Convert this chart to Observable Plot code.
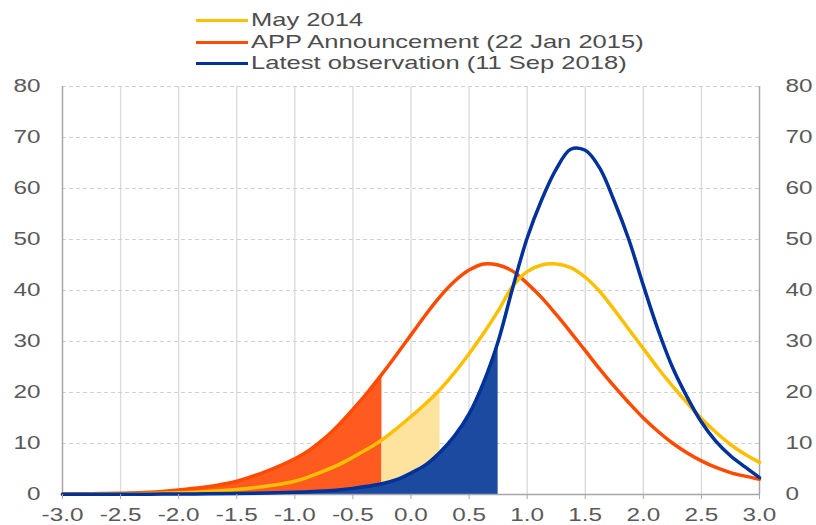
<!DOCTYPE html>
<html><head><meta charset="utf-8">
<script src="https://cdn.jsdelivr.net/npm/d3@7"></script>
<script src="https://cdn.jsdelivr.net/npm/@observablehq/plot@0.6"></script>
<style>
body{margin:0;background:#fff;font-family:"Liberation Sans",Arial,sans-serif;}
#wrap{width:816px;}
#legend{position:relative;height:72px;}
.item{position:absolute;left:196px;height:20px;width:600px;}
.swatch{position:absolute;left:0;top:8.5px;width:52px;height:3.5px;}
.lab{position:absolute;left:55px;top:-1px;font-size:18.5px;line-height:21px;color:#4d4d4d;white-space:nowrap;transform:scaleX(1.38);transform-origin:left center;}
</style></head><body>
<div id="wrap"><div id="legend"></div><div id="chart"></div></div>
<script>
// x grid (percent), series values (density), cut-offs, ticks
const xs = [-3,-2.75,-2.5,-2.25,-2,-1.75,-1.5,-1.25,-1,-0.875,-0.75,-0.625,-0.5,-0.375,-0.25,-0.125,0,0.125,0.25,0.375,0.5,0.625,0.75,0.875,1,1.125,1.25,1.375,1.5,1.625,1.75,1.875,2,2.125,2.25,2.375,2.5,2.625,2.75,2.875,3];
const may2014 = [0.05,0.08,0.12,0.2,0.35,0.6,1.0,1.6,2.6,3.5,4.6,5.8,7.3,8.9,10.7,12.9,15.3,17.8,20.6,23.9,27.6,31.6,36.0,40.8,43.7,45.0,45.2,44.5,42.6,39.8,36.2,32.4,28.6,24.8,21.3,18.0,14.9,12.2,9.8,7.9,6.3];
const appAnnouncement = [0.1,0.15,0.25,0.45,0.9,1.5,2.6,4.5,7.0,8.7,10.9,13.6,16.7,20.0,23.6,27.4,31.3,35.2,38.8,41.8,44.0,45.2,45.0,43.8,41.4,38.6,35.3,31.8,28.2,24.6,21.2,18.0,15.0,12.4,10.1,8.2,6.6,5.3,4.3,3.6,3.0];
const latestObservation = [0.03,0.04,0.05,0.07,0.1,0.14,0.2,0.3,0.45,0.55,0.7,0.9,1.2,1.6,2.1,2.9,4.2,5.8,8.3,11.5,15.8,22.0,30.0,40.5,50.3,57.8,63.8,67.7,67.5,64.0,57.5,50.0,41.0,32.4,25.0,19.2,14.2,10.4,7.6,5.4,3.3];
const seriesNames = ["May 2014","APP Announcement (22 Jan 2015)","Latest observation (11 Sep 2018)"];
const seriesColors = ["#fdbf00","#ff4b00","#003299"];
const fillColors = ["#fde39e","#ff5a1f","#1c4aa0"];
const appCut = -0.25, mayCut = 0.25, latestCut = 0.75;
const xTicks = [-3,-2.5,-2,-1.5,-1,-0.5,0,0.5,1,1.5,2,2.5,3];
const xTickLabels = ["-3.0","-2.5","-2.0","-1.5","-1.0","-0.5","0.0","0.5","1.0","1.5","2.0","2.5","3.0"];
const yTicks = [0,10,20,30,40,50,60,70,80];

// legend
const legend = document.getElementById("legend");
const rowTops = [10,32,53];
seriesNames.forEach((name,i)=>{
  const it = document.createElement("div"); it.className="item"; it.style.top = rowTops[i]+"px";
  const sw = document.createElement("div"); sw.className="swatch"; sw.style.background = seriesColors[i];
  const lb = document.createElement("div"); lb.className="lab"; lb.textContent = name;
  it.appendChild(sw); it.appendChild(lb); legend.appendChild(it);
});

const rows = xs.map((x,i)=>({x, may: may2014[i], app: appAnnouncement[i], latest: latestObservation[i]}));
const curve = "catmull-rom";
const gray = "#a6a6a6";
const chart = Plot.plot({
  width:816, height:453, marginLeft:62, marginRight:57, marginTop:14, marginBottom:31,
  style:{fontFamily:'"Liberation Sans", Arial, sans-serif', fontSize:"18px", color:"#595959", background:"#fff", overflow:"visible"},
  x:{domain:[-3,3], label:null},
  y:{domain:[0,80], label:null},
  marks:[
    Plot.ruleX(xTicks.slice(1,-1), {stroke:"#dadada", strokeWidth:1.3}),
    Plot.ruleY(yTicks.slice(1), {stroke:"#d0d0d0", strokeDasharray:"4,3"}),
    Plot.areaY(rows.filter(d=>d.x<=appCut), {x:"x", y:"app", fill:fillColors[1], curve}),
    Plot.areaY(rows.filter(d=>d.x>=appCut && d.x<=mayCut), {x:"x", y:"may", fill:fillColors[0], curve}),
    Plot.areaY(rows.filter(d=>d.x<=latestCut), {x:"x", y:"latest", fill:fillColors[2], curve}),
    Plot.ruleX([xTicks[0], xTicks[xTicks.length-1]], {stroke:gray, strokeWidth:1.5}),
    Plot.ruleY([0], {stroke:gray, strokeWidth:1.5}),
    Plot.line(rows, {x:"x", y:"app", stroke:seriesColors[1], strokeWidth:3.5, curve}),
    Plot.line(rows, {x:"x", y:"may", stroke:seriesColors[0], strokeWidth:3.5, curve}),
    Plot.line(rows, {x:"x", y:"latest", stroke:seriesColors[2], strokeWidth:3.5, curve}),
    Plot.axisX({ticks:xTicks, tickFormat:d=>xTickLabels[xTicks.indexOf(d)], tickSize:5, tickPadding:9, stroke:gray, label:null}),
    Plot.axisY({anchor:"left", ticks:yTicks, tickSize:0, tickPadding:22, label:null}),
    Plot.axisY({anchor:"right", ticks:yTicks, tickSize:0, tickPadding:26, label:null})
  ]
});
chart.querySelectorAll("text").forEach(t=>{
  const x = +(t.getAttribute("x")||0);
  const tr = t.getAttribute("transform")||"";
  t.setAttribute("transform", `${tr} translate(${x},0) scale(1.35,1) translate(${-x},0)`);
});
document.getElementById("chart").appendChild(chart);
</script>
</body></html>
